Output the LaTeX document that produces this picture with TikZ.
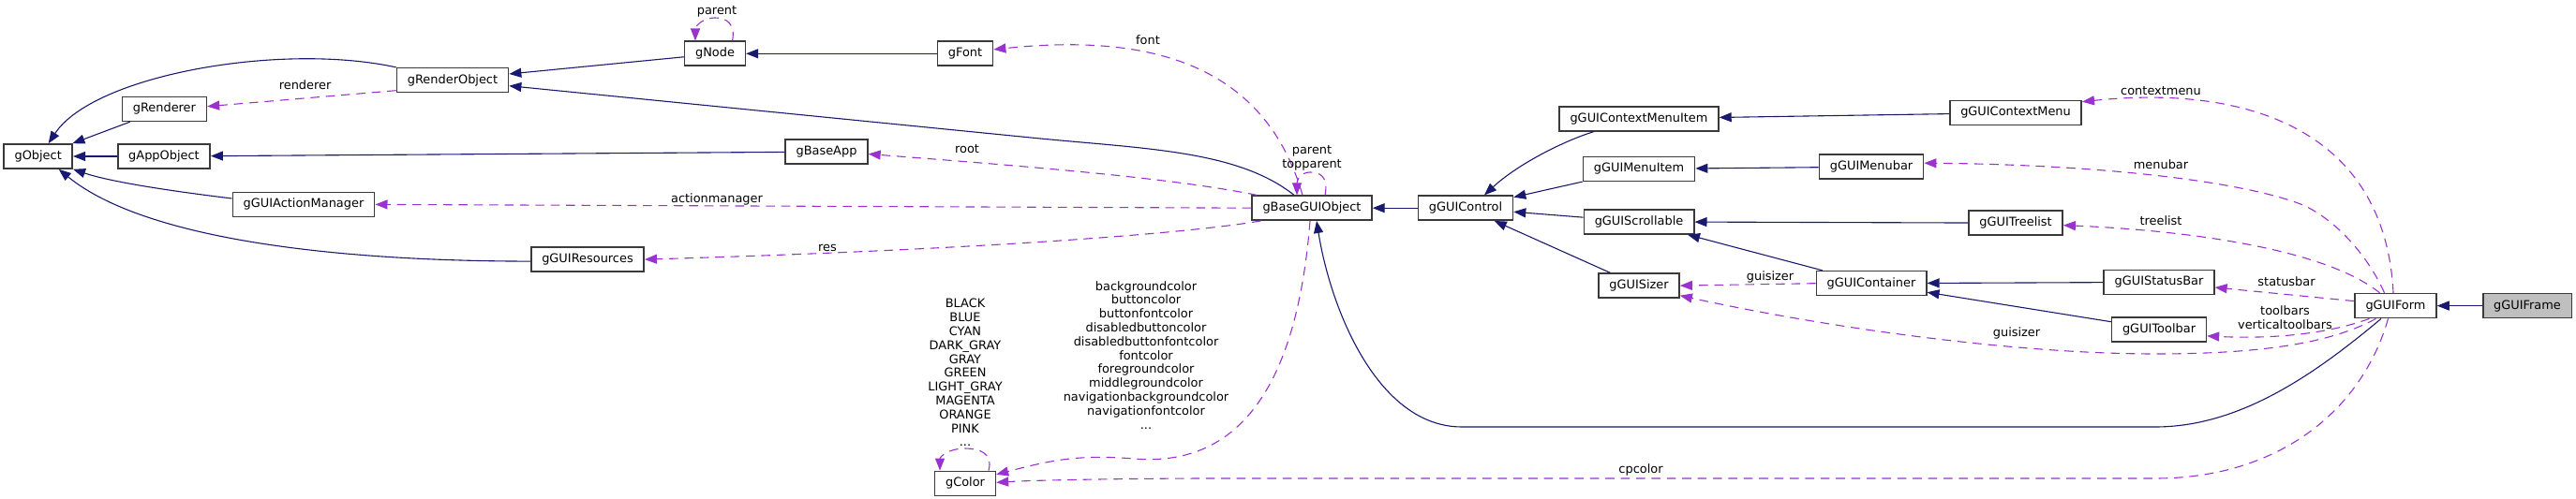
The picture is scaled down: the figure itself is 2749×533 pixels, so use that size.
\documentclass[tikz,border=0pt]{standalone}
\usepackage{fontspec}
\setmainfont{DejaVu Sans}
\usetikzlibrary{arrows.meta,calc}
\definecolor{inhc}{HTML}{191970}
\definecolor{usec}{HTML}{9A32CD}
\definecolor{boxc}{HTML}{3A3A3A}
\definecolor{framefill}{HTML}{BFBFBF}
\tikzset{
  cls/.style={draw=boxc, line width=0.8pt, fill=white, minimum height=13pt,
    inner xsep=5.7pt, inner ysep=0pt, font=\fontsize{6.46}{7.4}\selectfont},
  inhedge/.style={draw=inhc, line width=0.55pt, -{Triangle[length=6.5pt,width=5pt]}},
  useedge/.style={draw=usec, line width=0.55pt, dash pattern=on 4.8pt off 3.4pt,
    -{Triangle[length=6.5pt,width=5pt]}},
  lbl/.style={font=\fontsize{6.46}{7.4}\selectfont, inner sep=0pt, align=center, text=black},
}
\begin{document}
\begin{tikzpicture}[x=0.5pt,y=-0.5pt]
\useasboundingbox (0,0) rectangle (2749,533);
% nodes
\node[cls] (gObject) at (40.7,167) {gObject};
\node[cls] (gRenderer) at (175.4,116.4) {gRenderer};
\node[cls] (gAppObject) at (175,167) {gAppObject};
\node[cls] (gGUIActionManager) at (324,218.4) {gGUIActionManager};
\node[cls] (gRenderObject) at (483,85.7) {gRenderObject};
\node[cls] (gNode) at (763,57.3) {gNode};
\node[cls] (gFont) at (1030,57.3) {gFont};
\node[cls] (gBaseApp) at (882,162.1) {gBaseApp};
\node[cls] (gGUIResources) at (627,277.1) {gGUIResources};
\node[cls] (gColor) at (1030,516.4) {gColor};
\node[cls] (gBaseGUIObject) at (1400,222.2) {gBaseGUIObject};
\node[cls] (gGUIControl) at (1564,222.2) {gGUIControl};
\node[cls] (gGUIContextMenuItem) at (1749,126.8) {gGUIContextMenuItem};
\node[cls] (gGUIMenuItem) at (1749,180.5) {gGUIMenuItem};
\node[cls] (gGUIScrollable) at (1749,236.9) {gGUIScrollable};
\node[cls] (gGUISizer) at (1749,305.1) {gGUISizer};
\node[cls] (gGUIMenubar) at (1997,178.2) {gGUIMenubar};
\node[cls] (gGUIContainer) at (1997,302.7) {gGUIContainer};
\node[cls] (gGUIContextMenu) at (2151,120.5) {gGUIContextMenu};
\node[cls] (gGUITreelist) at (2151,238.2) {gGUITreelist};
\node[cls] (gGUIStatusBar) at (2304,301.4) {gGUIStatusBar};
\node[cls] (gGUIToolbar) at (2304,351.9) {gGUIToolbar};
\node[cls] (gGUIForm) at (2556.5,326.6) {gGUIForm};
\node[cls, fill=framefill] (gGUIFrame) at (2697,326.6) {gGUIFrame};

% inheritance edges
\draw[inhedge] (gRenderObject.north west) .. controls (300,45) and (100,80) .. ($(gObject.north)+(11,0)$);
\draw[inhedge] (gRenderer) -- (gObject);
\draw[inhedge] (gAppObject) -- (gObject);
\draw[inhedge] ($(gGUIActionManager.west)+(0,-6.4)$) .. controls (190,205) and (120,195) .. (gObject.south east);
\draw[inhedge] ($(gGUIResources.west)+(0,2)$) .. controls (380,279) and (160,260) .. ($(gObject.south)+(22,0)$);
\draw[inhedge] ($(gNode.west)+(0,3.5)$) -- ($(gRenderObject.east)+(0,-6.7)$);
\draw[inhedge] ($(gBaseGUIObject.north)+(-19,0)$) .. controls (1320,160) and (1220,159) .. (1100,147) -- ($(gRenderObject.east)+(0,6)$);
\draw[inhedge] (gFont) -- (gNode);
\draw[inhedge] (gBaseApp) -- (gAppObject);
\draw[inhedge] (gGUIControl) -- (gBaseGUIObject);
\draw[inhedge] ($(gGUIContextMenuItem.south west)+(37.6,0)$) .. controls (1670,150) and (1620,175) .. ($(gGUIControl.north)+(20,0)$);
\draw[inhedge] (gGUIMenuItem) -- (gGUIControl);
\draw[inhedge] (gGUIScrollable) -- (gGUIControl);
\draw[inhedge] (gGUISizer) -- (gGUIControl);
\draw[inhedge] (gGUIContextMenu) -- (gGUIContextMenuItem);
\draw[inhedge] (gGUIMenubar) -- (gGUIMenuItem);
\draw[inhedge] (gGUITreelist) -- (gGUIScrollable);
\draw[inhedge] (gGUIContainer) -- (gGUIScrollable);
\draw[inhedge] (gGUIStatusBar) -- (gGUIContainer);
\draw[inhedge] (gGUIToolbar) -- (gGUIContainer);
\draw[inhedge] (gGUIFrame) -- (gGUIForm);
\draw[inhedge] ($(gGUIForm.south)+(-15.5,0)$) .. controls (2470,400) and (2390,456) .. (2300,456) -- (1560,456) .. controls (1470,456) and (1420,330) .. ($(gBaseGUIObject.south)+(5,0)$);

% usage edges
\draw[useedge] ($(gRenderObject.west)+(0,11)$) -- ($(gRenderer.east)+(0,-2.7)$);
\draw[useedge] ($(gNode.north)+(18.6,0)$) .. controls (785,25) and (775,19) .. (763,19) .. controls (750,19) and (742,28) .. ($(gNode.north)+(-21,0)$);
\draw[useedge] ($(gBaseGUIObject.north)+(-10,0)$) .. controls (1350,70) and (1230,35) .. ($(gFont.east)+(0,-4.4)$);
\draw[useedge] ($(gBaseGUIObject.north west)+(6,0)$) .. controls (1250,190) and (1100,178) .. ($(gBaseApp.east)+(0,2.4)$);
\draw[useedge] (gBaseGUIObject.west) -- (gGUIActionManager.east);
\draw[useedge] ($(gBaseGUIObject.south west)+(10,0)$) .. controls (1250,252) and (1000,268) .. (gGUIResources.east);
\draw[useedge] ($(gBaseGUIObject.north)+(14,0)$) .. controls (1418,188) and (1408,184) .. (1398,184) .. controls (1388,184) and (1384,192) .. ($(gBaseGUIObject.north)+(-16,0)$);
\draw[useedge] ($(gBaseGUIObject.south)+(-2,0)$) .. controls (1385,400) and (1330,500) .. (1210,490) .. controls (1150,485) and (1120,492) .. ($(gColor.east)+(0,-9.6)$);
\draw[useedge] ($(gColor.north)+(25,0)$) .. controls (1060,484) and (1045,479) .. (1030,479) .. controls (1012,479) and (1003,488) .. ($(gColor.north)+(-27,0)$);
\draw[useedge] ($(gGUIForm.south)+(-8,0)$) .. controls (2520,440) and (2430,511) .. (2300,511) -- (1300,511) .. controls (1200,511) and (1100,513) .. ($(gColor.east)+(0,-1)$);
\draw[useedge] ($(gGUIForm.north)+(-2.5,0)$) .. controls (2545,140) and (2400,90) .. ($(gGUIContextMenu.north east)+(0,2)$);
\draw[useedge] ($(gGUIForm.north)+(-12,0)$) .. controls (2530,280) and (2500,240) .. (2460,220) .. controls (2400,195) and (2250,176) .. ($(gGUIMenubar.east)+(0,-4)$);
\draw[useedge] ($(gGUIForm.north)+(-17,0)$) .. controls (2480,265) and (2330,246) .. ($(gGUITreelist.east)+(0,2.4)$);
\draw[useedge] ($(gGUIForm.west)+(0,-5)$) -- ($(gGUIStatusBar.east)+(0,5.6)$);
\draw[useedge] ($(gGUIForm.south)+(-28,0)$) .. controls (2480,358) and (2420,362) .. ($(gGUIToolbar.east)+(0,7)$);
\draw[useedge] ($(gGUIForm.south)+(-21,0)$) .. controls (2490,365) and (2420,378) .. (2300,378) .. controls (2150,378) and (1950,350) .. ($(gGUISizer.east)+(0,10.6)$);
\draw[useedge] (gGUIContainer.west) -- (gGUISizer.east);

% labels
\node[lbl] (lrenderer) at (325.6,90.8) {renderer};
\node[lbl] (lnodeparent) at (765,12) {parent};
\node[lbl] (lfont) at (1225,42.7) {font};
\node[lbl] (lroot) at (1032,159.4) {root};
\node[lbl] (lactionmanager) at (765,212.6) {actionmanager};
\node[lbl] (lres) at (883,264.8) {res};
\node[lbl] (lparent) at (1400,169) {parent\\topparent};
\node[lbl] (lcolors) at (1030,398.1) {BLACK\\BLUE\\CYAN\\DARK\_GRAY\\GRAY\\GREEN\\LIGHT\_GRAY\\MAGENTA\\ORANGE\\PINK\\...};
\node[lbl] (lguicolors) at (1223,379.2) {backgroundcolor\\buttoncolor\\buttonfontcolor\\disabledbuttoncolor\\disabledbuttonfontcolor\\fontcolor\\foregroundcolor\\middlegroundcolor\\navigationbackgroundcolor\\navigationfontcolor\\...};
\node[lbl] (lcpcolor) at (1751,501.7) {cpcolor};
\node[lbl] (lcontextmenu) at (2306,97.3) {contextmenu};
\node[lbl] (lmenubar) at (2306,175.4) {menubar};
\node[lbl] (ltreelist) at (2306,235.2) {treelist};
\node[lbl] (lstatusbar) at (2440,300.7) {statusbar};
\node[lbl] (ltoolbars) at (2438.5,338.9) {toolbars\\verticaltoolbars};
\node[lbl] (lguisizer1) at (1889,295.6) {guisizer};
\node[lbl] (lguisizer2) at (2152,356) {guisizer};
\end{tikzpicture}
\end{document}
